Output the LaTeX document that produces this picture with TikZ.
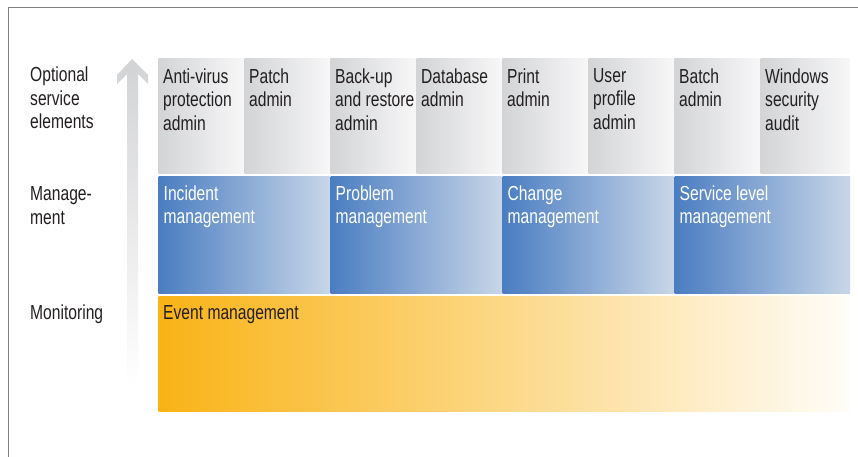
\documentclass[tikz,border=0pt]{standalone}
\usepackage{fontspec}
\setmainfont{Liberation Sans}[FakeStretch=0.77]

\definecolor{framegray}{HTML}{808080}
\definecolor{textdark}{HTML}{231F20}
\definecolor{greyleft}{HTML}{D3D4D6}
\definecolor{greyright}{HTML}{F7F7F8}
\definecolor{blueleft}{HTML}{4A7DC1}
\definecolor{blueright}{HTML}{C8D6E8}
\definecolor{orangeleft}{HTML}{F9B316}
\definecolor{orangeright}{HTML}{FFFDF9}
\definecolor{arrowtop}{HTML}{D2D3D5}
\definecolor{arrowmid}{HTML}{DFE0E2}

\tikzset{
  labeltext/.style={anchor=north west, inner sep=0pt, align=left, text=textdark,
    font=\fontsize{20.3}{23.5}\selectfont},
  greybox/.style={anchor=north west, inner sep=0pt, minimum width=85pt,
    minimum height=115pt, left color=greyleft, right color=greyright},
  bluebox/.style={anchor=north west, inner sep=0pt, minimum width=171pt,
    minimum height=116.5pt, left color=blueleft, right color=blueright},
  orangebox/.style={anchor=north west, inner sep=0pt, minimum width=691.5pt,
    minimum height=115.5pt, left color=orangeleft, right color=orangeright},
  whitetext/.style={labeltext, text=white}
}

\begin{document}
\begin{tikzpicture}[x=1pt, y=-1pt]
\useasboundingbox (0,0) rectangle (858,457);

\draw [framegray, line width=1.2pt] (8.5,457) -- (8.5,7.5) -- (858,7.5);

% rising arrow
\shade [top color=arrowtop, middle color=arrowmid, bottom color=white]
  (132,59) -- (148,75) -- (148,84) -- (138,74) -- (138,386) -- (127,386)
  -- (127,74) -- (117,84) -- (117,75) -- cycle;

\node[labeltext] (optional) at (30,67) {Optional\\service\\elements};
\node[labeltext] (management) at (30,186.5) {Manage-\\ment};
\node[labeltext] (monitoring) at (30,305) {Monitoring};

% optional service elements
\node[greybox] (antivirus) at (158.5,58.3) {};
\node[labeltext] (antivirustext) at ([shift={(4.5,10)}]antivirus.north west) {Anti-virus\\protection\\admin};
\node[greybox] (patch) at (244.5,58.3) {};
\node[labeltext] (patchtext) at ([shift={(4.5,10)}]patch.north west) {Patch\\admin};
\node[greybox] (backup) at (330.5,58.3) {};
\node[labeltext] (backuptext) at ([shift={(4.5,10)}]backup.north west) {Back-up\\and restore\\admin};
\node[greybox] (database) at (416.5,58.3) {};
\node[labeltext] (databasetext) at ([shift={(4.5,10)}]database.north west) {Database\\admin};
\node[greybox] (print) at (502.5,58.3) {};
\node[labeltext] (printtext) at ([shift={(4.5,10)}]print.north west) {Print\\admin};
\node[greybox] (userprofile) at (588.5,58.3) {};
\node[labeltext] (userprofiletext) at ([shift={(4.5,10)}]userprofile.north west) {User\\profile\\admin};
\node[greybox] (batch) at (674.5,58.3) {};
\node[labeltext] (batchtext) at ([shift={(4.5,10)}]batch.north west) {Batch\\admin};
\node[greybox, minimum width=89.5pt] (winsecurity) at (760.5,58.3) {};
\node[labeltext] (winsecuritytext) at ([shift={(4.5,10)}]winsecurity.north west) {Windows\\security\\audit};

% management
\node[bluebox] (incident) at (158.5,176.7) {};
\node[whitetext] (incidenttext) at ([shift={(5,8.5)}]incident.north west) {Incident\\management};
\node[bluebox] (problem) at (330.5,176.7) {};
\node[whitetext] (problemtext) at ([shift={(5,8.5)}]problem.north west) {Problem\\management};
\node[bluebox] (change) at (502.5,176.7) {};
\node[whitetext] (changetext) at ([shift={(5,8.5)}]change.north west) {Change\\management};
\node[bluebox, minimum width=175.5pt] (servicelevel) at (674.5,176.7) {};
\node[whitetext] (serviceleveltext) at ([shift={(5,8.5)}]servicelevel.north west) {Service level\\management};

% monitoring
\node[orangebox] (event) at (158.5,296) {};
\node[labeltext] (eventtext) at ([shift={(4.5,9)}]event.north west) {Event management};
\end{tikzpicture}
\end{document}
